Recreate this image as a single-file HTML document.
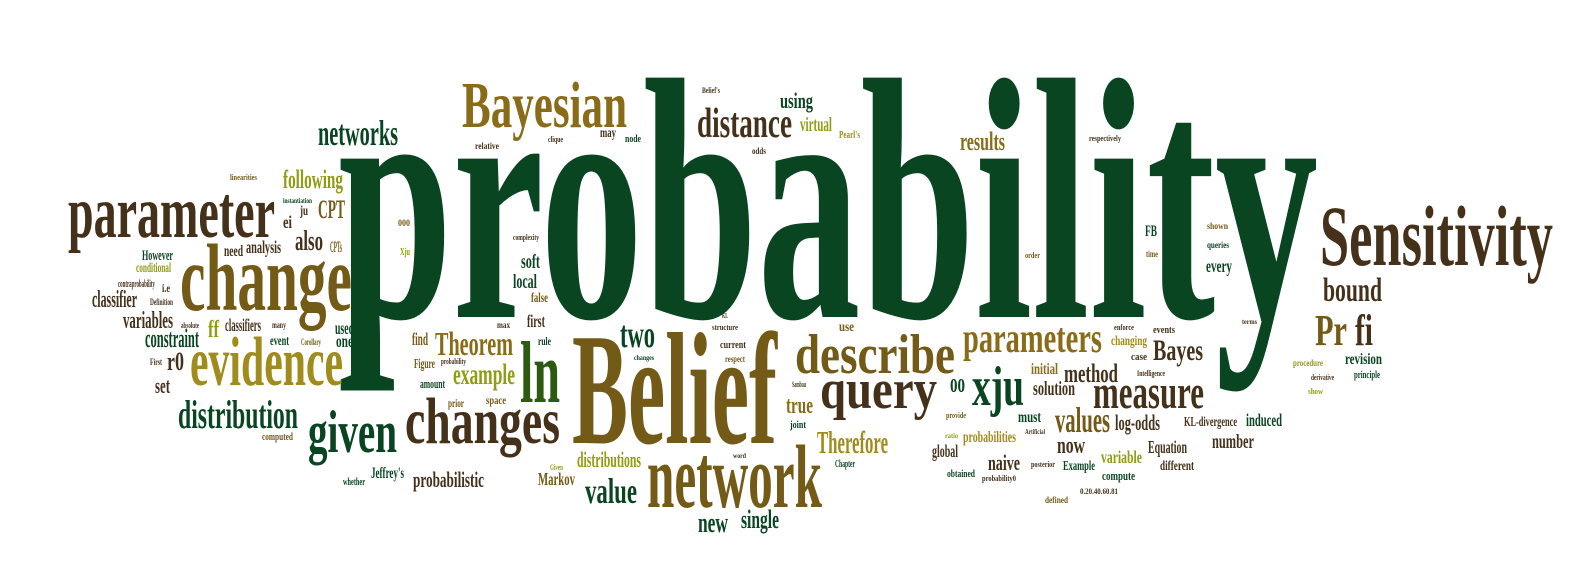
<!DOCTYPE html>
<html><head><meta charset="utf-8"><style>
html,body{margin:0;padding:0;background:#fff;}
svg{display:block;}
text{font-family:"Liberation Serif",serif;font-weight:bold;}
</style></head>
<body>
<svg id="cloud" width="1588" height="563" viewBox="0 0 1588 563" xmlns="http://www.w3.org/2000/svg"></svg>
<script>
const words=["probability","Belief","Sensitivity","change","parameter","evidence","Bayesian","changes","network","describe","given","ln","query","measure","xju","parameters","distribution","networks","distance","two","Pr","fi","bound","Theorem","values","value","method","following","CPT","ei","ju","also","CPTs","However","need","analysis","conditional","contraprobability","i.e","classifier","Definition","variables","absolute","ff","classifiers","many","used","constraint","event","Corollary","one","First","r0","set","computed","whether","Jeffrey's","probabilistic","find","rule","first","max","Figure","probability","example","amount","prior","space","structure","KL","current","changes","respect","use","Sambau","true","joint","Therefore","word","Chapter","distributions","Given","Markov","new","single","relative","clique","may","node","Belief's","using","virtual","Pearl's","odds","complexity","soft","local","false","results","respectively","FB","shown","order","time","queries","every","terms","enforce","events","changing","case","Bayes","initial","Intelligence","00","solution","provide","must","log-odds","KL-divergence","induced","ratio","probabilities","Artificial","global","now","Equation","number","naive","posterior","Example","variable","different","obtained","probability0","compute","0.20.40.60.81","defined","procedure","revision","derivative","principle","show","linearities","instantiation","000","Xju"];
const lefts=[338,572,1320,180,68,190,462,405,647,795,308,520,820,1093,972,963,178,318,697,620,1315,1355,1323,435,1055,585,1064,283,318,283,300,295,330,142,224,246,136,118,162,92,150,123,181,208,225,272,335,145,270,301,336,150,167,155,262,343,371,413,412,538,527,497,414,441,453,420,448,486,712,722,720,634,725,839,792,786,790,817,733,835,577,550,538,698,741,475,548,600,625,702,780,800,839,752,513,521,513,531,960,1089,1145,1207,1025,1146,1207,1206,1242,1114,1153,1111,1131,1153,1031,1137,950,1033,946,1018,1115,1184,1246,945,963,1025,932,1057,1148,1212,988,1031,1063,1101,1160,947,982,1102,1080,1045,1293,1345,1311,1354,1308,230,283,398,400];
const rights=[1318,777,1553,352,275,343,627,560,822,955,397,560,937,1204,1024,1102,298,398,792,655,1347,1373,1382,513,1110,637,1118,343,345,292,308,323,342,173,243,281,171,155,170,137,173,173,199,219,261,286,354,199,289,321,353,162,184,170,293,365,404,484,428,551,545,510,435,466,515,445,464,506,738,728,746,654,745,854,806,813,806,888,746,855,641,563,575,728,779,499,563,616,641,720,813,832,860,766,539,540,537,548,1005,1121,1157,1228,1040,1158,1229,1232,1257,1134,1175,1147,1147,1203,1058,1165,965,1075,966,1041,1160,1237,1282,958,1016,1045,958,1085,1187,1254,1020,1055,1095,1142,1194,975,1016,1135,1118,1068,1323,1382,1334,1380,1323,257,312,410,410];
const baselines=[317,443,265,310,237,385,127,443,507,373,452,402,408,408,405,352,428,145,137,347,345,345,301,355,432,503,382,188,218,228,215,250,252,260,256,253,272,287,292,307,305,328,328,337,331,328,334,347,345,345,347,365,370,393,440,485,478,487,345,345,327,328,368,364,384,388,407,404,330,318,348,360,362,331,387,413,428,453,458,467,467,470,485,532,528,149,142,137,142,93,108,131,138,154,240,268,288,302,150,141,236,229,258,257,248,272,324,330,333,345,360,360,374,376,392,395,418,422,430,426,426,438,442,434,457,453,453,448,470,467,470,463,470,477,481,480,494,503,366,364,380,378,394,180,203,226,255];
const sizes=[345,160,86,95,74,70,66,66,90,56,60,88,56,48,56,42,40,36,42,38,44,44,34,34,36,36,26,26,26,18,14,28,16,15,16,18,14,10,12,24,9,24,8,24,18,9,18,26,14,9,18,9,26,22,11,10,16,22,18,12,18,9,14,8,30,13,12,12,8,7,11,7,9,14,8,24,10,32,7,10,22,8,18,28,26,9,8,14,10,8,22,20,10,9,8,20,20,14,26,8,16,9,8,9,9,18,7,8,11,14,11,30,16,8,20,20,8,16,22,14,18,7,16,7,18,24,18,20,22,8,14,18,14,11,8,13,8,9,9,16,8,10,8,8,7,9,10];
const colorCodes=["G","O","B","O","B","Y","W","B","O","O","G","M","B","B","G","W","G","G","B","G","O","B","B","W","O","G","B","L","O","B","B","B","O","G","B","B","L","B","B","B","B","B","B","L","B","B","G","G","G","O","G","B","B","B","O","G","G","B","O","G","B","B","O","B","L","G","O","O","B","B","B","G","O","O","B","W","G","Y","B","G","L","L","O","G","G","B","B","B","G","B","G","L","Y","B","B","G","G","O","W","B","G","O","O","O","G","G","B","B","B","Y","B","B","W","B","G","B","O","G","B","B","G","L","Y","B","B","B","B","B","B","B","G","L","B","G","B","G","B","O","L","G","B","G","L","O","G","O","L"];
const palette={G:"#0a4522",O:"#735a16",B:"#45311a",Y:"#a08c1c",L:"#8f9c14",M:"#2c5a10",W:"#8a6c18"};
const svg=document.getElementById('cloud');
const NS="http://www.w3.org/2000/svg";
for(let i=0;i<words.length;i++){
  const t=document.createElementNS(NS,'text');
  t.setAttribute('x',lefts[i]);
  t.setAttribute('y',baselines[i]);
  t.setAttribute('font-size',sizes[i]);
  t.setAttribute('textLength',rights[i]-lefts[i]);
  t.setAttribute('lengthAdjust','spacingAndGlyphs');
  t.setAttribute('fill',palette[colorCodes[i]]||palette.B);
  t.textContent=words[i];
  
  
  svg.appendChild(t);
}
</script>
</body></html>
